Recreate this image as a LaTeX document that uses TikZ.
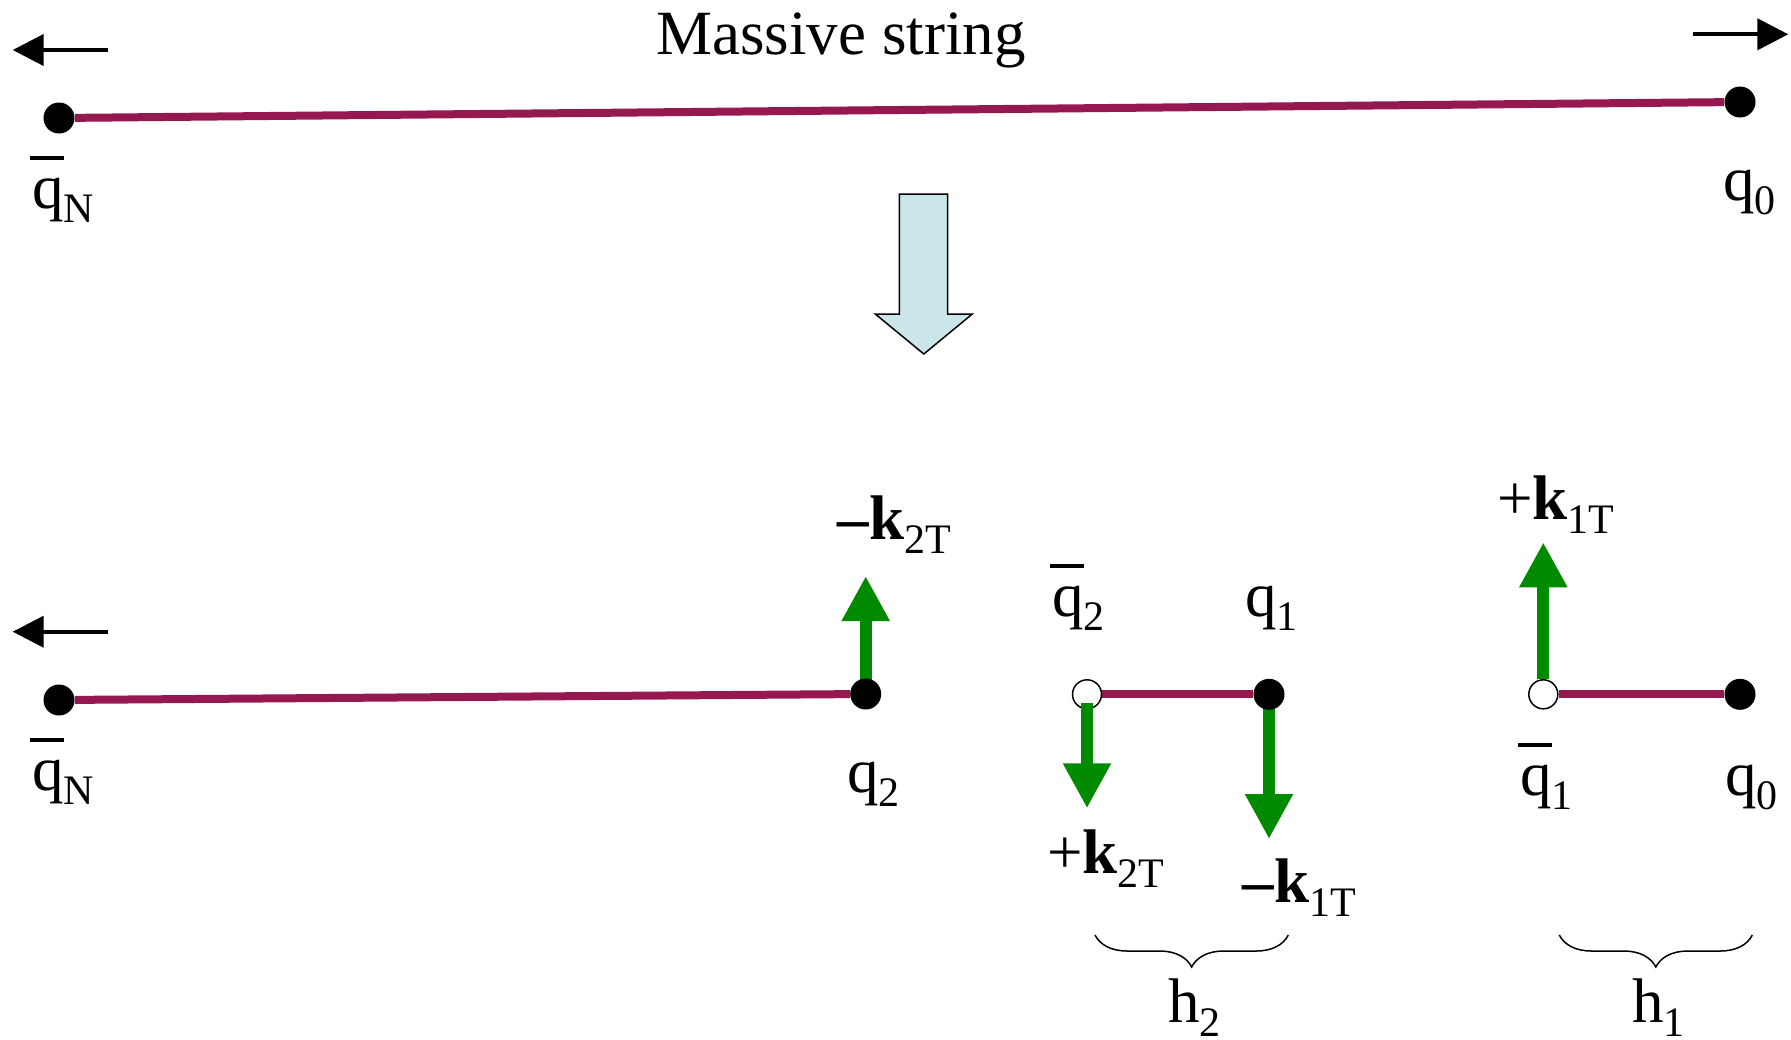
\documentclass[tikz,border=0pt]{standalone}
\usepackage{fontspec}
\setmainfont{Liberation Serif}
\usetikzlibrary{arrows.meta,decorations.pathreplacing,backgrounds}
\definecolor{maroon}{RGB}{149,25,80}
\definecolor{kgreen}{RGB}{0,138,0}
\definecolor{paleblue}{RGB}{203,230,234}
\newcommand{\sbs}[1]{\raisebox{-7pt}{\fontsize{21}{21}\selectfont #1}}
\newcommand{\qbar}{\makebox[0pt][l]{\hspace{-1pt}\rule[24pt]{17pt}{2pt}}q}
\newcommand{\kk}{\textbf{k}}
\begin{document}
\begin{tikzpicture}[x=0.5pt,y=-0.5pt,
 lbl/.style={anchor=base west,inner sep=0pt,font=\fontsize{31.5}{36}\selectfont},
 dot/.style={circle,fill=black,inner sep=0pt,minimum size=15.5pt},
 odot/.style={circle,draw=black,fill=white,line width=0.75pt,inner sep=0pt,minimum size=14.5pt},
 strng/.style={draw=maroon,line width=4pt},
 pull/.style={draw=black,line width=2pt,-{Triangle[length=15.5pt,width=15.5pt]}},
 kick/.style={draw=kgreen,line width=6pt,-{Triangle[length=22.5pt,width=22.5pt]}},
 hbrace/.style={draw=black,line width=0.75pt,decorate,decoration={brace,mirror,amplitude=16pt}},
 bigarrow/.style={draw=black,fill=paleblue,line width=0.75pt,line join=miter}
]
\useasboundingbox (0,0) rectangle (1791,1039);

% dots
\node[dot] (qNt) at (59,118) {};
\node[dot] (q0t) at (1740,102) {};
\node[dot] (qNb) at (59,700) {};
\node[dot] (q2) at (865.7,694) {};
\node[odot] (qb2) at (1087,694.3) {};
\node[dot] (q1) at (1269,694.3) {};
\node[odot] (qb1) at (1543.3,694.3) {};
\node[dot] (q0b) at (1740,694.3) {};

% coordinates for free ends
\coordinate (tk2m) at (865.7,576);
\coordinate (tk1m) at (1269,839);
\coordinate (tk2p) at (1087,808.3);
\coordinate (tk1p) at (1543.3,542.3);

\begin{pgfonlayer}{background}
\draw[strng] (qNt) -- (q0t);
\draw[strng] (qNb) -- (q2);
\draw[strng] (qb2) -- (q1);
\draw[strng] (qb1) -- (q0b);
\draw[kick] (q2.center) -- (tk2m);
\draw[kick] (q1.center) -- (tk1m);
\end{pgfonlayer}

\draw[kick] ([yshift=-4.5pt]qb2.center) -- (tk2p);
\draw[kick] (qb1.north) -- (tk1p);

% pulling arrows
\coordinate (pa1) at (107.7,50);
\coordinate (pa1t) at (12.7,50);
\coordinate (pa2) at (1692.7,34.3);
\coordinate (pa2t) at (1788.3,34.3);
\coordinate (pa3) at (107.7,631.7);
\coordinate (pa3t) at (12.7,631.7);
\draw[pull] (pa1) -- (pa1t);
\draw[pull] (pa2) -- (pa2t);
\draw[pull] (pa3) -- (pa3t);

% big down arrow
\draw[bigarrow] (899.3,194) -- (947.7,194) -- (947.7,314) -- (972.3,314) -- (923.8,354) -- (875.3,314) -- (899.3,314) -- cycle;

% braces
\coordinate (b2l) at (1095,935);
\coordinate (b2r) at (1288.3,935);
\coordinate (b1l) at (1559.3,935);
\coordinate (b1r) at (1752.3,935);
\draw[hbrace] (b2l) -- (b2r);
\draw[hbrace] (b1l) -- (b1r);

% labels
\node[lbl] (title) at (656,54.3) {Massive string};
\node[lbl] (lqNt) at (32,208) {\qbar\sbs{N}};
\node[lbl] (lq0t) at (1723,200) {q\sbs{0}};
\node[lbl] (lk2m) at (837,539) {\textbf{–}\kk\sbs{2T}};
\node[lbl] (lqNb) at (32,790) {\qbar\sbs{N}};
\node[lbl] (lq2) at (847,792) {q\sbs{2}};
\node[lbl] (lqb2) at (1052,616) {\qbar\sbs{2}};
\node[lbl] (lq1) at (1245,616) {q\sbs{1}};
\node[lbl] (lk2p) at (1047,873) {+\kk\sbs{2T}};
\node[lbl] (lk1m) at (1242,902) {\textbf{–}\kk\sbs{1T}};
\node[lbl] (lk1p) at (1497,519) {+\kk\sbs{1T}};
\node[lbl] (lqb1) at (1520,795) {\qbar\sbs{1}};
\node[lbl] (lq0b) at (1725,795) {q\sbs{0}};
\node[lbl] (lh2) at (1168,1022) {h\sbs{2}};
\node[lbl] (lh1) at (1632,1022) {h\sbs{1}};
\end{tikzpicture}
\end{document}
